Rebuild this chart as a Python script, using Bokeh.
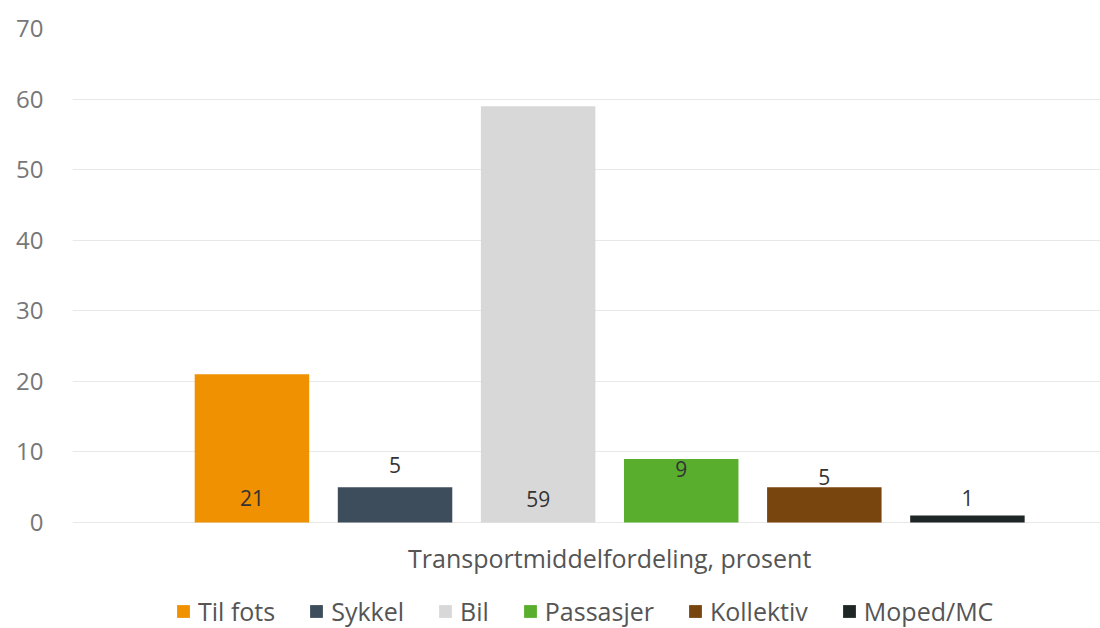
from bokeh.plotting import figure
from bokeh.models import Range1d, FixedTicker, Legend, LegendItem, ColumnDataSource, Label
from bokeh.embed import file_html
from bokeh.resources import INLINE
from bokeh.core.properties import value

category = "Transportmiddelfordeling, prosent"
series = ["Til fots", "Sykkel", "Bil", "Passasjer", "Kollektiv", "Moped/MC"]
values = [21, 5, 59, 9, 5, 1]
colors = ["#EF9100", "#3E4D5B", "#D8D8D8", "#5AAE2E", "#78450F", "#1E2626"]
y_ticks = [0, 10, 20, 30, 40, 50, 60, 70]
# label anchor heights (layout only)
label_y = [3.5, 8.1, 3.4, 7.6, 6.4, 3.5]

FONT = "Open Sans"

p = figure(width=1100, height=628, output_backend="svg", toolbar_location=None,
           x_range=Range1d(-1.254, 5.93), y_range=Range1d(-15.02, 70),
           min_border_left=72, min_border_right=0, min_border_top=28, min_border_bottom=0)
p.outline_line_color = None
p.background_fill_color = "white"
p.border_fill_color = "white"

xs = list(range(len(series)))
items = []
for i, (name, v, c) in enumerate(zip(series, values, colors)):
    src = ColumnDataSource(dict(x=[xs[i]], top=[v]))
    r = p.vbar(x="x", top="top", width=0.8, source=src, fill_color=c, line_color=None)
    items.append(LegendItem(label=name, renderers=[r]))

lab = ColumnDataSource(dict(x=xs, y=label_y, t=[str(v) for v in values]))
p.text(x="x", y="y", text="t", source=lab, text_align="center", text_baseline="middle",
       text_font=value(FONT), text_font_size="21px", text_color="#333333")

# category label under the bar group
p.add_layout(Label(x=(len(series) - 1) / 2, y=-5.0, text=category, text_align="center",
                   text_baseline="middle", text_font=FONT, text_font_size="25px",
                   text_color="#555555"))

p.yaxis.ticker = FixedTicker(ticks=y_ticks)
p.yaxis.axis_line_color = None
p.yaxis.major_tick_line_color = None
p.yaxis.minor_tick_line_color = None
p.yaxis.major_label_standoff = 23
p.yaxis.major_label_text_font = FONT
p.yaxis.major_label_text_font_size = "24px"
p.yaxis.major_label_text_color = "#777777"

p.xaxis.visible = False
p.xgrid.grid_line_color = None
p.ygrid.ticker = FixedTicker(ticks=y_ticks)
p.ygrid.grid_line_color = "#E8E8E8"
p.ygrid.grid_line_width = 1

legend = Legend(items=items, orientation="horizontal", location=(103, 0),
                glyph_width=16, glyph_height=16, label_standoff=7, spacing=33,
                padding=0, margin=0, border_line_color=None, background_fill_alpha=0,
                label_text_font=FONT, label_text_font_size="25px", label_text_color="#555555")
p.add_layout(legend, "center")

open("out.html", "w").write(file_html(p, INLINE))
